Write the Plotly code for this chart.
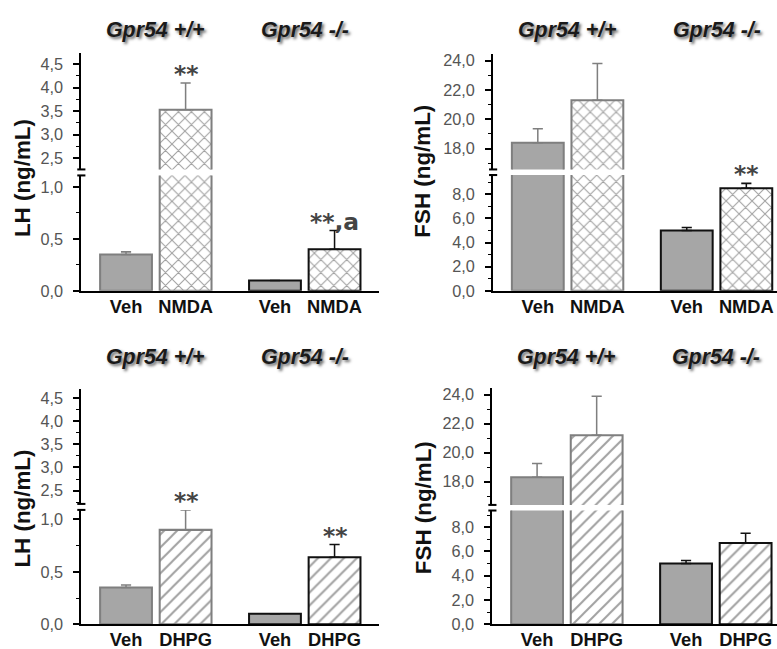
import plotly.graph_objects as go

W, H = 777, 649          # reference picture size
S = 1 / 0.983            # compensation for the viewer's slight down-scaling
FW, FH = round(W * S), round(H * S)

# ---------------- data ----------------
groups = ["Gpr54 +/+", "Gpr54 -/-"]
treat_nmda = ["Veh", "NMDA"]
treat_dhpg = ["Veh", "DHPG"]

lh_nmda_wt = [0.35, 3.53]
lh_nmda_wt_err = [0.025, 0.57]
lh_nmda_ko = [0.10, 0.40]
lh_nmda_ko_err = [0.0, 0.18]
lh_nmda_sig_wt = ["", "**"]
lh_nmda_sig_ko = ["", "**,a"]

fsh_nmda_wt = [18.4, 21.3]
fsh_nmda_wt_err = [0.95, 2.5]
fsh_nmda_ko = [5.0, 8.5]
fsh_nmda_ko_err = [0.25, 0.4]
fsh_nmda_sig_wt = ["", ""]
fsh_nmda_sig_ko = ["", "**"]

lh_dhpg_wt = [0.35, 0.90]
lh_dhpg_wt_err = [0.025, 0.19]
lh_dhpg_ko = [0.10, 0.64]
lh_dhpg_ko_err = [0.0, 0.12]
lh_dhpg_sig_wt = ["", "**"]
lh_dhpg_sig_ko = ["", "**"]

fsh_dhpg_wt = [18.3, 21.2]
fsh_dhpg_wt_err = [0.95, 2.7]
fsh_dhpg_ko = [5.0, 6.7]
fsh_dhpg_ko_err = [0.25, 0.8]
fsh_dhpg_sig_wt = ["", ""]
fsh_dhpg_sig_ko = ["", ""]

# ---------------- layout geometry (reference pixels) ----------------
def px(x):
    return x / W

def py(y):
    return 1 - y / H

def sz(v):
    return v * S

panels = [
    dict(title="LH (ng/mL)", treat=treat_nmda, pattern="x",
         wt=lh_nmda_wt, wt_err=lh_nmda_wt_err, ko=lh_nmda_ko, ko_err=lh_nmda_ko_err,
         sig_wt=lh_nmda_sig_wt, sig_ko=lh_nmda_sig_ko,
         xpx=(80, 373), low=(288.3, 172.7), lowr=(0, 1.11), up=(166.7, 50.5), upr=(2.26, 4.73),
         dtick=0.5, minor=0.25, head_y=27, ytitle=(22, 175)),
    dict(title="FSH (ng/mL)", treat=treat_nmda, pattern="x",
         wt=fsh_nmda_wt, wt_err=fsh_nmda_wt_err, ko=fsh_nmda_ko, ko_err=fsh_nmda_ko_err,
         sig_wt=fsh_nmda_sig_wt, sig_ko=fsh_nmda_sig_ko,
         xpx=(485, 777), low=(288.3, 172.3), lowr=(0, 9.59), up=(166.7, 50.7), upr=(16.57, 24.48),
         dtick=2, minor=1, head_y=27, ytitle=(416, 168)),
    dict(title="LH (ng/mL)", treat=treat_dhpg, pattern="/",
         wt=lh_dhpg_wt, wt_err=lh_dhpg_wt_err, ko=lh_dhpg_ko, ko_err=lh_dhpg_ko_err,
         sig_wt=lh_dhpg_sig_wt, sig_ko=lh_dhpg_sig_ko,
         xpx=(80, 373), low=(622.3, 507.7), lowr=(0, 1.09), up=(501.7, 386.7), upr=(2.21, 4.70),
         dtick=0.5, minor=0.25, head_y=355, ytitle=(22, 506)),
    dict(title="FSH (ng/mL)", treat=treat_dhpg, pattern="/",
         wt=fsh_dhpg_wt, wt_err=fsh_dhpg_wt_err, ko=fsh_dhpg_ko, ko_err=fsh_dhpg_ko_err,
         sig_wt=fsh_dhpg_sig_wt, sig_ko=fsh_dhpg_sig_ko,
         xpx=(484.3, 777), low=(622.3, 508.3), lowr=(0, 9.37), up=(502.7, 385.7), upr=(16.39, 24.46),
         dtick=2, minor=1, head_y=355, ytitle=(416, 505)),
]

GRAY_FILL = "#a6a6a6"
WT_LINE = "#7f7f7f"
KO_LINE = "#111111"
OFF = 0.2
BW = 0.348
UNIT_PX = 146.5

fig = go.Figure()
annotations = []
shapes = []
layout = {}

for i, p in enumerate(panels):
    xa = "x" if i == 0 else f"x{i+1}"
    ylo_n = 2 * i + 1
    yup_n = 2 * i + 2
    ylo = "y" if ylo_n == 1 else f"y{ylo_n}"
    yup = f"y{yup_n}"

    tickvals, ticktext = [], []
    for g, (vals, errs, sig, line_c, fg_c) in enumerate([
        (p["wt"], p["wt_err"], p["sig_wt"], WT_LINE, "#8c8c8c"),
        (p["ko"], p["ko_err"], p["sig_ko"], KO_LINE, "#111111"),
    ]):
        xs = [g - OFF, g + OFF]
        tickvals += xs
        ticktext += p["treat"]
        for ya in (ylo, yup):
            fig.add_trace(go.Bar(
                x=xs, y=vals, width=BW, xaxis=xa, yaxis=ya,
                marker=dict(
                    color=[GRAY_FILL, "white"],
                    line=dict(color=line_c, width=sz(2)),
                    pattern=dict(shape=["", p["pattern"]], fgcolor=fg_c, bgcolor="white",
                                 size=sz(9), solidity=0.22, fillmode="overlay"),
                ),
                error_y=dict(type="data", array=errs, arrayminus=[0, 0], symmetric=False,
                             color=line_c, thickness=sz(1.5), width=sz(5), visible=True),
                showlegend=False, hoverinfo="skip",
            ))
        for k in range(2):
            if sig[k]:
                top = vals[k] + errs[k]
                ref = ylo if top <= p["lowr"][1] + 0.05 else yup
                annotations.append(dict(
                    x=xs[k], y=top, xref=xa, yref=ref, text=sig[k], showarrow=False,
                    xanchor="center", yanchor="bottom", yshift=sz(-7),
                    font=dict(family="DejaVu Sans", size=sz(23), color="#444", weight="bold"),
                ))

    x0, x1 = p["xpx"]
    x1c = min(x1, W)
    layout["xaxis" if i == 0 else f"xaxis{i+1}"] = dict(
        domain=[px(x0), px(x1c)], range=[-0.5, -0.5 + (x1c - x0) / UNIT_PX], anchor=ylo,
        showline=True, linecolor="black", linewidth=sz(2), ticks="",
        tickvals=tickvals, ticktext=ticktext, showgrid=False, zeroline=False,
        tickfont=dict(family="Arial", size=sz(18), color="#111", weight="bold"),
        ticklabelstandoff=-2, fixedrange=True,
    )
    common = dict(anchor=xa, showline=True, linecolor="black", linewidth=sz(2),
                  ticks="outside", ticklen=round(sz(6)), tickwidth=sz(1.5), tickcolor="black",
                  showgrid=False, zeroline=False, tickformat=".1f",
                  dtick=p["dtick"], tick0=0,
                  minor=dict(ticks="outside", ticklen=3, tickwidth=sz(1.2), tickcolor="black",
                             dtick=p["minor"], tick0=0, showgrid=False),
                  tickfont=dict(family="Arial", size=sz(16), color="#555"),
                  ticklabelstandoff=7, fixedrange=True)
    layout["yaxis" if ylo_n == 1 else f"yaxis{ylo_n}"] = dict(
        domain=[py(p["low"][0]), py(p["low"][1])], range=list(p["lowr"]), **common)
    layout[f"yaxis{yup_n}"] = dict(
        domain=[py(p["up"][0]), py(p["up"][1])], range=list(p["upr"]), **common)

    # axis-break caps
    for yy in (p["low"][1], p["up"][0]):
        shapes.append(dict(type="line", xref="paper", yref="paper",
                           x0=px(x0 - 4), x1=px(x0 + 4), y0=py(yy), y1=py(yy),
                           line=dict(color="black", width=sz(2))))

    # group headers
    for g, name in enumerate(groups):
        annotations.append(dict(
            x=g, y=py(p["head_y"]), xref=xa, yref="paper", showarrow=False,
            text=name, xanchor="center", yanchor="middle",
            font=dict(family="Arial", size=sz(21), color="#1a1a1a", weight="bold", style="italic",
                      shadow="2px 2px 3px #666"),
        ))

    # y-axis title
    annotations.append(dict(
        x=px(p["ytitle"][0]), y=py(p["ytitle"][1]), xref="paper", yref="paper",
        text=p["title"], textangle=-90, showarrow=False,
        xanchor="center", yanchor="middle",
        font=dict(family="Arial", size=sz(22), color="#111", weight="bold"),
    ))

fig.update_layout(
    width=FW, height=FH, margin=dict(l=0, r=0, t=0, b=0),
    paper_bgcolor="white", plot_bgcolor="white",
    separators=", ", barmode="overlay",
    annotations=annotations, shapes=shapes, **layout,
)

fig.write_html(
    "out.html",
    config={"displayModeBar": False},
    post_script=("document.documentElement.style.overflow='hidden';"
                 "document.body.style.overflow='hidden';"
                 "document.body.style.margin='0';"),
)
